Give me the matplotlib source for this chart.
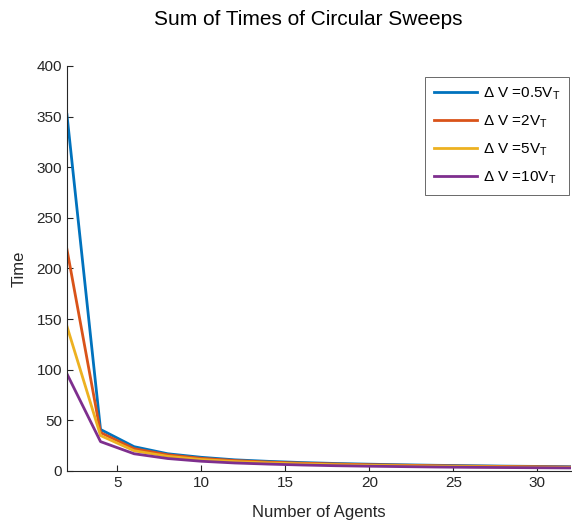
import matplotlib
matplotlib.use('Agg')
import matplotlib.pyplot as plt

plt.rcParams['font.family'] = ['Liberation Sans', 'DejaVu Sans']
plt.rcParams['mathtext.fontset'] = 'custom'
plt.rcParams['mathtext.rm'] = 'Liberation Sans'
plt.rcParams['mathtext.it'] = 'Liberation Sans'

# 数据
agents = [2, 4, 6, 8, 10, 12, 14, 16, 18, 20, 22, 24, 26, 28, 30, 32]
t_05 = [352, 41, 24, 17, 13.5, 11, 9.5, 8.3, 7.4, 6.7, 6.1, 5.6, 5.2, 4.8, 4.5, 4.2]
t_2 = [219, 38, 22, 16, 12.5, 10.3, 8.8, 7.7, 6.9, 6.2, 5.7, 5.2, 4.8, 4.5, 4.2, 3.9]
t_5 = [143, 35, 20, 14.5, 11.3, 9.3, 8, 7, 6.2, 5.6, 5.1, 4.7, 4.3, 4.0, 3.7, 3.5]
t_10 = [96, 29, 17, 12.3, 9.6, 7.9, 6.8, 5.9, 5.2, 4.7, 4.3, 3.9, 3.6, 3.4, 3.2, 3.0]
labels = [r'$\Delta$ V =0.5V$_T$', r'$\Delta$ V =2V$_T$',
          r'$\Delta$ V =5V$_T$', r'$\Delta$ V =10V$_T$']
colors = ['#0072BD', '#D95319', '#EDB120', '#7E2F8E']

fig = plt.figure(figsize=(5.72, 5.27), dpi=100)
ax = fig.add_axes([0.117, 0.1063, 0.881, 0.7685])

for y, lab, c in zip([t_05, t_2, t_5, t_10], labels, colors):
    ax.plot(agents, y, color=c, linewidth=2, label=lab)

ax.set_xlim(2, 32)
ax.set_ylim(0, 400)
ax.set_xticks([5, 10, 15, 20, 25, 30])
ax.set_yticks(range(0, 401, 50))
ax.tick_params(direction='in', labelsize=11, length=4, color='#262626', labelcolor='#262626')
for s in ['top', 'right']:
    ax.spines[s].set_visible(False)
for s in ['left', 'bottom']:
    ax.spines[s].set_color('#262626')
    ax.spines[s].set_linewidth(0.8)

# 标题位置按原图手动放
fig.text(308 / 572, 1 - 25 / 527, 'Sum of Times of Circular Sweeps', fontsize=15,
         ha='center', va='baseline')
ax.set_xlabel('Number of Agents', fontsize=12, labelpad=11, color='#262626')
ax.set_ylabel('Time', fontsize=12, labelpad=7, color='#262626')

leg = ax.legend(loc='upper right', fontsize=11, handlelength=2.8, frameon=True,
                fancybox=False, edgecolor='#262626', borderpad=0.6, labelspacing=0.75,
                handletextpad=0.4, borderaxespad=0.3, bbox_to_anchor=(1.006, 0.985))
leg.get_frame().set_linewidth(0.6)

fig.savefig('out.png', dpi=100)
